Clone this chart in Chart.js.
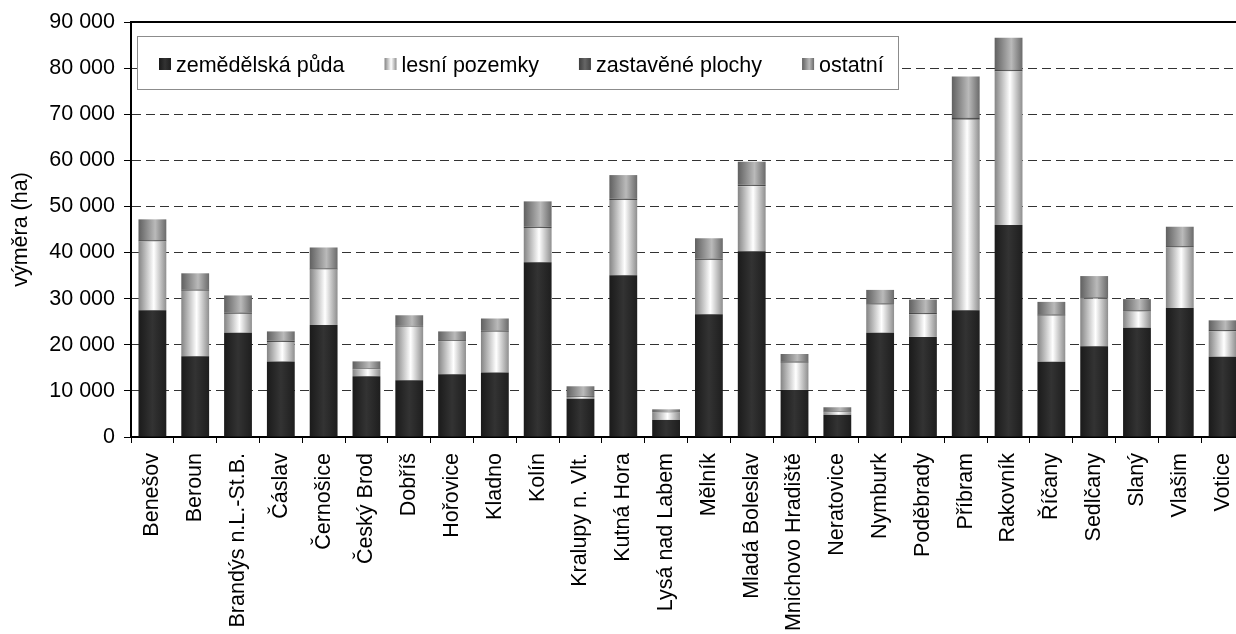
<!DOCTYPE html>
<html>
<head>
<meta charset="utf-8">
<script src="https://cdn.jsdelivr.net/npm/chart.js@4/dist/chart.umd.min.js"></script>
<style>
  html, body { margin: 0; padding: 0; background: #fff; overflow: hidden; }
</style>
</head>
<body>
<canvas id="chart" width="1260" height="634"></canvas>
<script>
// data (ha)
const districts = [
  "Benešov", "Beroun", "Brandýs n.L.-St.B.", "Čáslav", "Černošice", "Český Brod",
  "Dobříš", "Hořovice", "Kladno", "Kolín", "Kralupy n. Vlt.", "Kutná Hora",
  "Lysá nad Labem", "Mělník", "Mladá Boleslav", "Mnichovo Hradiště", "Neratovice",
  "Nymburk", "Poděbrady", "Příbram", "Rakovník", "Říčany", "Sedlčany", "Slaný",
  "Vlašim", "Votice"
];
const zemedelska = [27500, 17500, 22600, 16400, 24300, 13200, 12300, 13600, 14000, 37900, 8300, 35100,
  3700, 26600, 40300, 10200, 4800, 22600, 21700, 27500, 46000, 16300, 19700, 23700, 28000, 17400];
const lesni = [14900, 14200, 4100, 4200, 12000, 1500, 11600, 7200, 8800, 7400, 400, 16300,
  1600, 11800, 14100, 5900, 600, 6100, 4900, 41300, 33300, 10000, 10300, 3500, 13100, 5500];
const zastavene = [300, 300, 300, 300, 300, 200, 200, 200, 300, 300, 200, 300,
  100, 300, 300, 300, 150, 300, 300, 400, 300, 300, 300, 300, 300, 300];
const ostatni = [4500, 3500, 3700, 2000, 4500, 1500, 2300, 1900, 2600, 5500, 2100, 5100,
  600, 4400, 5000, 1600, 900, 2900, 2900, 9000, 7000, 2700, 4600, 2400, 4200, 2100];
const seriesNames = ["zemědělská půda", "lesní pozemky", "zastavěné plochy", "ostatní"];
const yMax = 90000;
const yStep = 10000;
const yTitle = "výměra (ha)";

const FONT = "'Liberation Sans', Arial, sans-serif";
const FONT_SIZE = 21.5;
const BAR_PCT = 0.65;

// horizontal gradient stops for each series
const fills = [
  [[0, "#1a1a1a"], [0.5, "#333333"], [1, "#1e1e1e"]],
  [[0, "#848484"], [0.55, "#ffffff"], [1, "#8e8e8e"]],
  [[0, "#3e3e3e"], [0.5, "#666666"], [1, "#424242"]],
  [[0, "#606060"], [0.6, "#bababa"], [1, "#6a6a6a"]]
];

function makeGradient(c, x0, x1, stops) {
  const g = c.createLinearGradient(x0, 0, x1, 0);
  stops.forEach(([o, col]) => g.addColorStop(o, col));
  return g;
}

function barFill(stops) {
  return (ctx) => {
    const chart = ctx.chart;
    const area = chart.chartArea;
    const xs = chart.scales.x;
    if (!area || !xs || ctx.dataIndex === undefined) return stops[1][1];
    const x = xs.getPixelForValue(ctx.dataIndex);
    const w = area.width / districts.length * BAR_PCT;
    return makeGradient(chart.ctx, x - w / 2, x + w / 2, stops);
  };
}

function fmt(v) {
  return String(v).replace(/\B(?=(\d{3})+(?!\d))/g, " ");
}

// framed legend inside the plot + solid top line
const boxLegend = {
  id: "boxLegend",
  afterDraw(chart) {
    const c = chart.ctx;
    const a = chart.chartArea;
    c.save();
    c.strokeStyle = "#000";
    c.lineWidth = 2;
    c.beginPath();
    c.moveTo(a.left, a.top);
    c.lineTo(a.right, a.top);
    c.stroke();

    const bx = a.left + 6, by = a.top + 14, bw = 761, bh = 53;
    c.fillStyle = "#fff";
    c.fillRect(bx, by, bw, bh);
    c.strokeStyle = "#8c8c8c";
    c.lineWidth = 1;
    c.strokeRect(bx + 0.5, by + 0.5, bw, bh);

    c.font = FONT_SIZE + "px " + FONT;
    c.textBaseline = "alphabetic";
    c.textAlign = "left";
    let x = bx + 22;
    chart.data.datasets.forEach((ds, i) => {
      c.fillStyle = makeGradient(c, x, x + 12, fills[i]);
      c.fillRect(x, by + 22, 12, 12);
      c.fillStyle = "#000";
      c.fillText(ds.label, x + 17, by + 35.5);
      x += 17 + c.measureText(ds.label).width + 40;
    });
    c.restore();
  }
};

new Chart(document.getElementById("chart"), {
  type: "bar",
  data: {
    labels: districts,
    datasets: [zemedelska, lesni, zastavene, ostatni].map((d, i) => ({
      label: seriesNames[i],
      data: d,
      backgroundColor: barFill(fills[i]),
      borderWidth: 0,
      categoryPercentage: 1,
      barPercentage: BAR_PCT
    }))
  },
  options: {
    responsive: false,
    animation: false,
    layout: { padding: { top: 22, right: 16, left: 0, bottom: 0 } },
    plugins: {
      legend: { display: false },
      tooltip: { enabled: false }
    },
    scales: {
      x: {
        stacked: true,
        grid: {
          offset: true,
          drawOnChartArea: false,
          drawTicks: true,
          tickLength: 6,
          tickColor: "#000",
          tickWidth: 1
        },
        border: { display: true, color: "#000", width: 2 },
        ticks: {
          autoSkip: false,
          maxRotation: 90,
          minRotation: 90,
          padding: 10,
          color: "#000",
          font: { family: FONT, size: FONT_SIZE }
        },
        afterFit(scale) { scale.height = 197; }
      },
      y: {
        stacked: true,
        min: 0,
        max: yMax,
        grid: {
          color: (ctx) => (ctx.tick && (ctx.tick.value === 0 || ctx.tick.value === yMax)) ? "rgba(0,0,0,0)" : "#333333",
          lineWidth: 1,
          drawTicks: true,
          tickLength: 7,
          tickColor: "#000",
          tickWidth: 1
        },
        border: { display: true, color: "#000", width: 2, dash: [9, 5] },
        ticks: {
          stepSize: yStep,
          padding: 9,
          color: "#000",
          font: { family: FONT, size: FONT_SIZE },
          callback: (v) => fmt(v)
        },
        title: {
          display: true,
          text: yTitle,
          color: "#000",
          font: { family: FONT, size: FONT_SIZE },
          padding: { top: 8, bottom: 0 }
        },
        afterFit(scale) { scale.width = 131; }
      }
    }
  },
  plugins: [boxLegend]
});
</script>
</body>
</html>
